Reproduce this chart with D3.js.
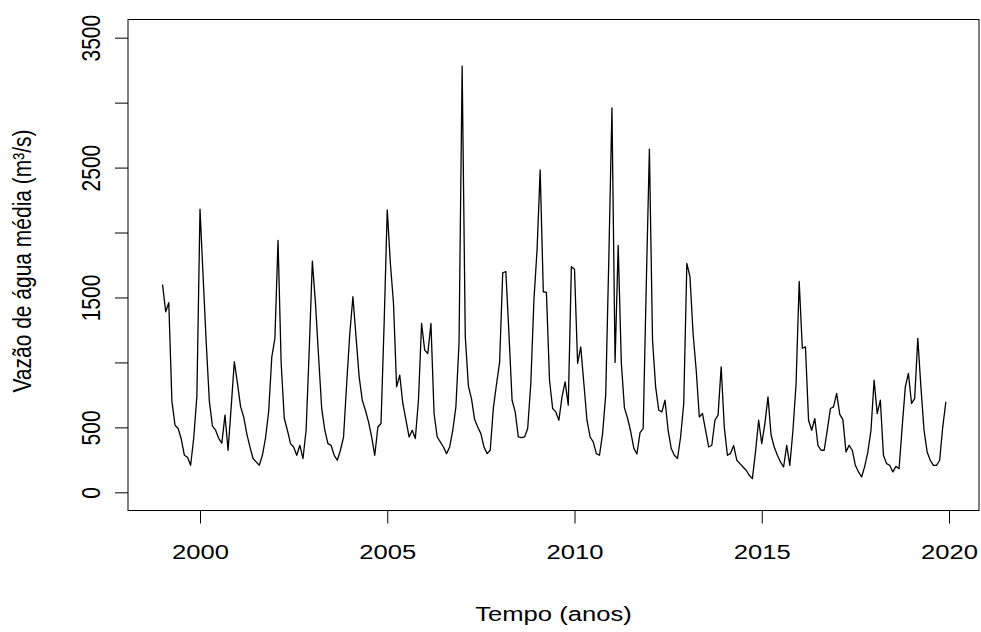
<!DOCTYPE html>
<html>
<head>
<meta charset="utf-8">
<script src="https://cdn.jsdelivr.net/npm/d3@7"></script>
<style>
  body { margin: 0; background: #fff; }
  text { font-family: "Liberation Sans", Arial, Helvetica, sans-serif; fill: #000; }
</style>
</head>
<body>
<div id="vis"></div>
<script>

// monthly mean water flow (m3/s), Jan..Dec of each year
const START_YEAR = 1999;
const y1999 = [1600, 1390, 1460, 700, 516, 491, 410, 285, 270, 208, 420, 740];
const y2000 = [2180, 1660, 1150, 700, 510, 478, 416, 378, 594, 324, 660, 1005];
const y2001 = [840, 660, 580, 450, 350, 260, 234, 208, 285, 420, 620, 1040];
const y2002 = [1185, 1940, 1000, 570, 478, 375, 349, 285, 362, 260, 478, 1095];
const y2003 = [1780, 1455, 1043, 645, 478, 375, 362, 285, 247, 324, 426, 838];
const y2004 = [1223, 1506, 1197, 889, 709, 632, 542, 426, 285, 503, 530, 1300];
const y2005 = [2175, 1763, 1455, 812, 902, 684, 555, 426, 478, 414, 709, 1300];
const y2006 = [1095, 1069, 1300, 607, 426, 388, 349, 298, 349, 478, 660, 1150];
const y2007 = [3280, 1200, 820, 720, 560, 503, 452, 349, 298, 324, 650, 830];
const y2008 = [1000, 1690, 1700, 1220, 709, 619, 426, 421, 426, 491, 838, 1480];
const y2009 = [1866, 2482, 1544, 1540, 863, 645, 619, 555, 735, 850, 671, 1737];
const y2010 = [1717, 992, 1120, 838, 555, 426, 388, 298, 285, 452, 750, 1800];
const y2011 = [2960, 1000, 1900, 1000, 650, 570, 470, 340, 295, 460, 490, 1600];
const y2012 = [2642, 1172, 812, 632, 619, 709, 478, 337, 285, 260, 426, 684];
const y2013 = [1763, 1660, 1223, 940, 580, 607, 478, 349, 362, 555, 594, 966];
const y2014 = [500, 285, 300, 360, 247, 221, 195, 170, 131, 105, 311, 555];
const y2015 = [375, 529, 735, 439, 349, 285, 234, 195, 362, 208, 478, 838];
const y2016 = [1623, 1109, 1120, 555, 478, 568, 362, 324, 324, 478, 645, 658];
const y2017 = [761, 600, 560, 310, 362, 324, 208, 157, 118, 200, 311, 478];
const y2018 = [863, 606, 709, 285, 221, 208, 157, 200, 182, 504, 812, 915];
const y2019 = [684, 722, 1185, 812, 478, 311, 247, 208, 208, 247, 504, 697];

const X_TICKS = [2000, 2005, 2010, 2015, 2020];
const Y_TICKS = [0, 500, 1000, 1500, 2000, 2500, 3000, 3500];
const Y_LABELED = [0, 500, 1500, 2500, 3500];

const X_TITLE = "Tempo (anos)";
const Y_TITLE = "Vazão de água média (m³/s)";

// frame constants
const FRAME_WIDTH = 981;
const FRAME_HEIGHT = 632;
const MARGINS = {left: 128, right: 2, top: 19.5, bottom: 121.5};
const VIS_WIDTH = FRAME_WIDTH - MARGINS.left - MARGINS.right;
const VIS_HEIGHT = FRAME_HEIGHT - MARGINS.top - MARGINS.bottom;
const FONT_SIZE = "21px";
// the picture looks stretched sideways, text is wider than it is tall
const STRETCH = "scale(1.22,1)";

// build the series: one point per month
const years = [y1999, y2000, y2001, y2002, y2003, y2004, y2005, y2006, y2007, y2008, y2009,
               y2010, y2011, y2012, y2013, y2014, y2015, y2016, y2017, y2018, y2019];
const data = [];
years.forEach((vals, yi) => {
  vals.forEach((v, m) => {
    data.push({t: START_YEAR + yi + m / 12, v: v});
  });
});

const FRAME = d3.select("#vis")
                .append("svg")
                  .attr("width", FRAME_WIDTH)
                  .attr("height", FRAME_HEIGHT);

// scales (x keeps 2000 at 200px and 2020 at 949px, like the picture)
const X_SCALE = d3.scaleLinear()
                  .domain([2000 - 72 / 37.45, 2020 + 30 / 37.45])
                  .range([MARGINS.left, MARGINS.left + VIS_WIDTH]);
const Y_SCALE = d3.scaleLinear()
                  .domain([-140, 3640])
                  .range([MARGINS.top + VIS_HEIGHT, MARGINS.top]);

// the series line
const line = d3.line()
               .x((d) => { return X_SCALE(d.t); })
               .y((d) => { return Y_SCALE(d.v); });

FRAME.append("path")
     .datum(data)
     .attr("d", line)
     .attr("fill", "none")
     .attr("stroke", "#000")
     .attr("stroke-width", 1.3)
     .attr("stroke-linejoin", "round");

// x axis
const xAxis = FRAME.append("g")
                   .attr("transform", "translate(0," + (MARGINS.top + VIS_HEIGHT) + ")")
                   .call(d3.axisBottom(X_SCALE).tickValues(X_TICKS).tickFormat(d3.format("d"))
                           .tickSize(13).tickSizeOuter(0));
xAxis.select(".domain").remove();
xAxis.selectAll("line").attr("stroke", "#000");
xAxis.selectAll("text")
     .attr("y", null)
     .attr("dy", "0.35em")
     .attr("transform", "translate(0,41) " + STRETCH)
     .attr("fill", "#000")
     .style("font-size", FONT_SIZE);

// y axis, labels turned like R does
const yAxis = FRAME.append("g")
                   .attr("transform", "translate(" + MARGINS.left + ",0)")
                   .call(d3.axisLeft(Y_SCALE).tickValues(Y_TICKS)
                           .tickFormat((d) => { return Y_LABELED.includes(d) ? d : ""; })
                           .tickSize(13).tickSizeOuter(0));
yAxis.select(".domain").remove();
yAxis.selectAll("line").attr("stroke", "#000");
yAxis.selectAll("text")
     .attr("x", null)
     .attr("dy", "0.35em")
     .attr("transform", "translate(-37,0) " + STRETCH + " rotate(-90)")
     .attr("text-anchor", "middle")
     .attr("fill", "#000")
     .style("font-size", FONT_SIZE);

// box around the plot
FRAME.append("rect")
     .attr("x", MARGINS.left)
     .attr("y", MARGINS.top)
     .attr("width", VIS_WIDTH)
     .attr("height", VIS_HEIGHT)
     .attr("fill", "none")
     .attr("stroke", "#000")
     .attr("stroke-width", 1);

// axis titles
FRAME.append("text")
     .attr("transform", "translate(" + (MARGINS.left + VIS_WIDTH / 2) + ",614) " + STRETCH)
     .attr("dy", "0.35em")
     .attr("text-anchor", "middle")
     .style("font-size", FONT_SIZE)
     .text(X_TITLE);

FRAME.append("text")
     .attr("transform", "translate(22," + (MARGINS.top + VIS_HEIGHT / 2 - 4) + ") " + STRETCH + " rotate(-90)")
     .attr("dy", "0.35em")
     .attr("text-anchor", "middle")
     .style("font-size", FONT_SIZE)
     .text(Y_TITLE);

</script>
</body>
</html>
